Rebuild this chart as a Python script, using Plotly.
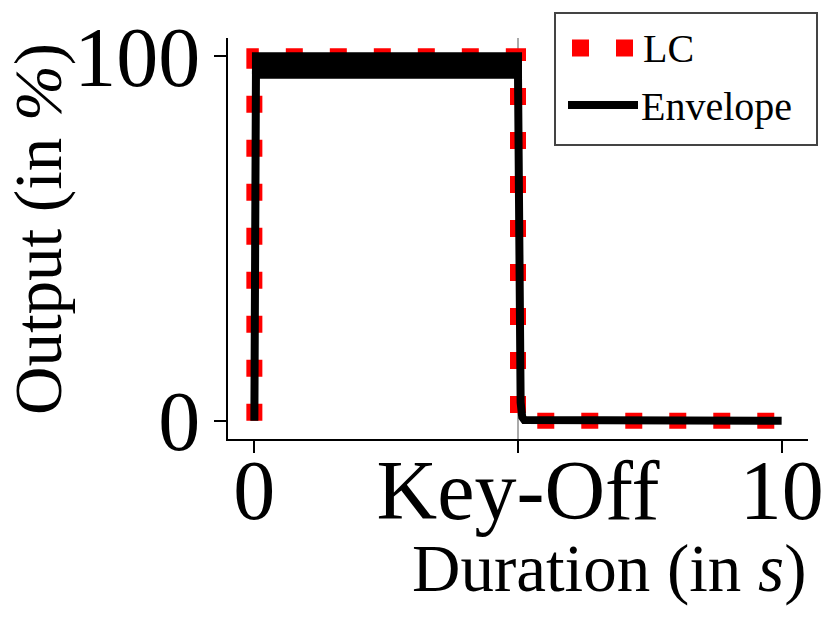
import plotly.graph_objects as go

# ---- data ----
lc_x = [0, 0, 5, 5, 10]
lc_y = [0, 100, 100, 0, 0]

env_x = [0.0, 0.03, 5.0, 5.015, 5.03, 5.05, 5.08, 5.12, 10.0]
env_y = [0.0, 95.0, 95.0, 45.0, 15.0, 5.0, 1.0, 0.2, 0.0]

# sustain band (fast oscillation between these limits)
band_x = [0.03, 5.0, 5.0, 0.03, 0.03]
band_y = [95, 95, 100, 100, 95]

x_tickvals = [0, 5, 10]
x_ticktext = ["0", "Key-Off", "10"]
y_tickvals = [0, 100]
y_ticktext = ["0", "100"]
keyoff_x = 5

FONT = "Liberation Serif, Times New Roman, serif"

fig = go.Figure()
fig.add_trace(go.Scatter(x=lc_x, y=lc_y, mode="lines", name="LC",
                         line=dict(color="#ff0000", width=16, dash="17px,27px"),
                         showlegend=False))
fig.add_trace(go.Scatter(x=band_x, y=band_y, mode="lines", fill="toself",
                         fillcolor="black", line=dict(color="black", width=8),
                         showlegend=False, hoverinfo="skip"))
fig.add_trace(go.Scatter(x=env_x, y=env_y, mode="lines", name="Envelope",
                         line=dict(color="black", width=8), showlegend=False))

# page body has an 8px default margin: figure is placed at (8, 8)
OFF = 8
W, H = 837 - OFF, 617 - OFF
L, T = 228 - OFF, 38 - OFF
R = W - (808 - OFF)
B = H - (439 - OFF)
pw = W - L - R
ph = H - T - B

def px(xp):
    return (xp - OFF - L) / pw

def py(yp):
    return (H - B - (yp - OFF)) / ph

shapes = [
    dict(type="line", xref="x", yref="paper", x0=keyoff_x, x1=keyoff_x, y0=0, y1=1,
         line=dict(color="#aaaaaa", width=2), layer="below"),
    # legend box
    dict(type="rect", xref="paper", yref="paper", x0=px(555), x1=px(817), y0=py(145), y1=py(13),
         line=dict(color="#444444", width=2), fillcolor="white", layer="above"),
    dict(type="line", xref="paper", yref="paper", x0=px(572), x1=px(634), y0=py(48), y1=py(48),
         line=dict(color="#ff0000", width=17, dash="17px,27px"), layer="above"),
    dict(type="line", xref="paper", yref="paper", x0=px(568), x1=px(638), y0=py(105), y1=py(105),
         line=dict(color="black", width=8), layer="above"),
]

annotations = [
    dict(text="LC", xref="paper", yref="paper", x=px(641), y=py(49), xanchor="left", yanchor="middle",
         showarrow=False, font=dict(family=FONT, size=40, color="black")),
    dict(text="Envelope", xref="paper", yref="paper", x=px(639), y=py(106), xanchor="left", yanchor="middle",
         showarrow=False, font=dict(family=FONT, size=40, color="black")),
    dict(text="Duration (in <i>s</i>)", xref="paper", yref="paper", x=px(808), y=py(568),
         xanchor="right", yanchor="middle", showarrow=False,
         font=dict(family=FONT, size=67, color="black")),
    dict(text="Output (in <i>%</i>)", xref="paper", yref="paper", x=px(38), y=py(229),
         xanchor="center", yanchor="middle", textangle=-90, showarrow=False,
         font=dict(family=FONT, size=67, color="black")),
]

fig.update_layout(
    width=W, height=H,
    margin=dict(l=L, r=R, t=T, b=B, pad=0, autoexpand=False),
    plot_bgcolor="white", paper_bgcolor="white",
    font=dict(family=FONT, color="black"),
    shapes=shapes, annotations=annotations, showlegend=False,
)
fig.update_xaxes(range=[-0.5, 10.5], tickvals=x_tickvals, ticktext=x_ticktext, automargin=False,
                 showgrid=False, zeroline=False, showline=True, linecolor="black", linewidth=2,
                 ticks="outside", ticklen=12, tickwidth=2, tickcolor="black",
                 tickfont=dict(family=FONT, size=84, color="black"), ticklabelstandoff=-35)
fig.update_yaxes(range=[-5, 105], tickvals=y_tickvals, ticktext=y_ticktext, automargin=False,
                 showgrid=False, zeroline=False, showline=True, linecolor="black", linewidth=2,
                 ticks="outside", ticklen=12, tickwidth=2, tickcolor="black",
                 tickfont=dict(family=FONT, size=84, color="black"), ticklabelstandoff=-3)

fig.write_html("out.html")
